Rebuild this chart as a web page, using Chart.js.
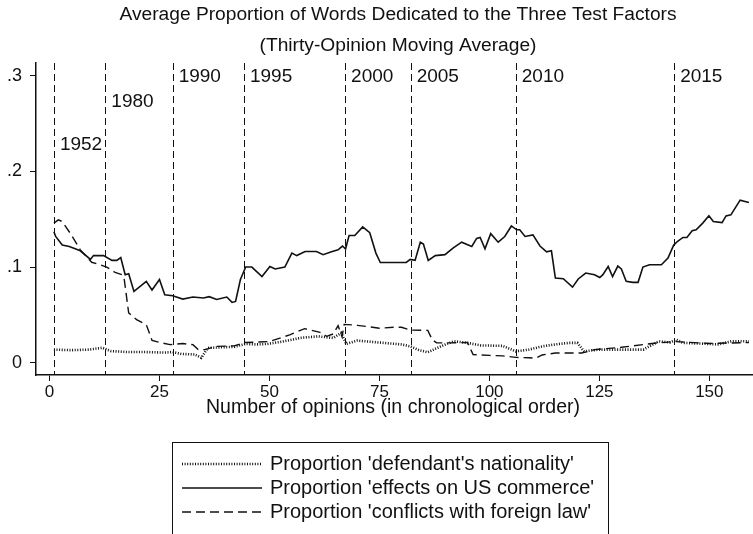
<!DOCTYPE html>
<html>
<head>
<meta charset="utf-8">
<script src="https://cdn.jsdelivr.net/npm/chart.js@4"></script>
<style>
  body { margin: 0; background: #fff; }
  #c { display: block; }
</style>
</head>
<body>
<canvas id="c" width="753" height="534"></canvas>
<script>
// values: [opinion number, proportion]
const nationality = [
  [1, .0136], [5, .013], [9, .0136], [12, .0155], [14, .012], [18, .011], [22, .011], [26, .0105],
  [28, .011], [30, .009], [33, .0085], [34.5, .005], [35.5, .012], [36, .0153], [39, .016], [42, .0165],
  [44.5, .0195], [47, .019], [49.5, .0195], [53, .022], [57, .0258], [61, .0275], [64.5, .0258],
  [66.3, .031], [67.5, .0195], [70, .023], [75, .021], [80, .019], [82, .017], [84, .013], [86, .0108],
  [88, .015], [90, .019], [92, .0223], [95, .0206], [98, .018], [103, .0175], [106, .0118], [109, .0136],
  [112, .017], [115, .019], [118, .0206], [120, .0206], [121.5, .0118], [125, .0136], [130, .0136],
  [135, .0136], [138.5, .0223], [141, .021], [142.5, .024], [144, .0206], [148, .0199], [152, .019],
  [155, .0223], [159, .0223]
];

const commerce = [
  [1, .137], [1.4, .132], [2.9, .123], [4.5, .1215], [7, .117], [9.3, .108], [10, .112], [12.3, .112],
  [14.2, .107], [15.3, .107], [16.2, .110], [17.2, .092], [18, .093], [19.2, .0745], [22, .085],
  [23.3, .076], [25, .087], [26.2, .071], [28, .070], [30.3, .0665], [32.6, .0686], [35, .0676],
  [36.3, .069], [38, .066], [40.3, .0686], [41.5, .063], [42.3, .064], [43.4, .087], [44.6, .100],
  [46, .100], [48.3, .090], [50.1, .1006], [51.3, .098], [53.5, .100], [55.1, .1146], [56.2, .112],
  [58.1, .1163], [60.7, .1163], [62.2, .113], [64.1, .116], [65.6, .118], [66.6, .122], [67.3, .119],
  [68.1, .133], [69.4, .133], [71.2, .142], [72.8, .136], [74.2, .1146], [75.2, .1048], [81.1, .1048],
  [82, .108], [83.1, .107], [84.3, .126], [85, .124], [86.1, .107], [87.7, .112], [89.9, .113],
  [91.8, .120], [93.7, .126], [96, .1215], [97.1, .130], [97.9, .131], [99, .119], [100.3, .135],
  [102, .126], [103.5, .132], [105, .143], [106.2, .139], [106.9, .139], [108.1, .132], [109.9, .1337],
  [111.5, .122], [113, .116], [114.1, .117], [115, .0885], [116.8, .0878], [118.9, .079], [120.2, .0875],
  [121.9, .0937], [123.9, .092], [125.1, .089], [125.8, .092], [127, .1006], [128, .090], [129.2, .101],
  [130, .098], [131.1, .085], [132.6, .084], [133.8, .084], [134.9, .100], [136.4, .1024], [139.1, .1024],
  [140.6, .1094], [141.9, .123], [142.8, .127], [144, .131], [144.9, .131], [146.1, .138], [147, .139],
  [148.5, .146], [149.9, .1536], [150.9, .1476], [152.9, .1466], [153.8, .1536], [154.9, .1546],
  [157, .170], [159, .1675]
];

const foreignLaw = [
  [1, .146], [2, .1494], [2.9, .1476], [4.7, .1355], [7, .118], [9.6, .105], [11.5, .1024], [13, .100],
  [14.9, .0944], [16.5, .092], [17, .0867], [18, .052], [19.8, .045], [22, .0397], [23.3, .0233],
  [25.5, .0206], [27.4, .0188], [30.3, .0199], [32.6, .0188], [33.8, .0136], [35.3, .0136], [38, .017],
  [42, .0175], [44.5, .021], [50, .022], [54.6, .029], [58, .0355], [61.5, .0317], [63, .0275],
  [64.5, .030], [65.6, .0387], [66.5, .027], [67, .040], [70, .039], [75, .036], [78.5, .037], [80, .037],
  [82, .034], [86, .0337], [87, .024], [88, .0206], [91, .0206], [95, .021], [96.3, .0084], [100, .0075],
  [103, .007], [106, .0055], [109, .005], [110.5, .0045], [112, .008], [115, .010], [121, .010],
  [124, .0136], [130, .016], [137, .020], [142, .022], [150, .020], [159, .021]
];

const seriesNames = [
  "Proportion 'defendant's nationality'",
  "Proportion 'effects on US commerce'",
  "Proportion 'conflicts with foreign law'"
];

// vertical reference lines: opinion number where each year starts
const markerOpinions = [1, 12.7, 28, 44.2, 67.2, 82.1, 106, 142];
const markerYears = ['1952', '1980', '1990', '1995', '2000', '2005', '2010', '2015'];
const markerLabelY = [.228, .273, .299, .299, .299, .299, .299, .299];

const xTicks = [0, 25, 50, 75, 100, 125, 150];
const yTicks = [0, .1, .2, .3];

const titleLines = ['Average Proportion of Words Dedicated to the Three Test Factors', '(Thirty-Opinion Moving Average)'];
const xTitle = 'Number of opinions (in chronological order)';

const INK = '#111';
const FONT = "'Liberation Sans', Arial, Helvetica, sans-serif";
Chart.defaults.font.family = FONT;
Chart.defaults.color = INK;

const toPts = arr => arr.map(p => ({ x: p[0], y: p[1] }));

const styles = [
  { borderWidth: 2.6, borderDash: [1, 1.6] },
  { borderWidth: 1.6, borderDash: [] },
  { borderWidth: 1.4, borderDash: [9, 5] }
];

const extras = {
  id: 'extras',
  beforeDatasetsDraw(chart) {
    const { ctx, chartArea: a, scales: { x } } = chart;
    ctx.save();
    ctx.strokeStyle = INK;
    ctx.lineWidth = 1;
    ctx.setLineDash([7, 4]);
    markerOpinions.forEach(v => {
      const px = Math.round(x.getPixelForValue(v)) + 0.5;
      ctx.beginPath();
      ctx.moveTo(px, a.top);
      ctx.lineTo(px, a.bottom);
      ctx.stroke();
    });
    ctx.restore();
  },
  afterDraw(chart) {
    const { ctx, chartArea: a, scales: { x, y } } = chart;
    ctx.save();
    ctx.fillStyle = INK;
    ctx.textBaseline = 'middle';

    // year labels
    ctx.font = '19px ' + FONT;
    ctx.textAlign = 'left';
    markerOpinions.forEach((v, i) => {
      ctx.fillText(markerYears[i], x.getPixelForValue(v) + 6, y.getPixelForValue(markerLabelY[i]));
    });

    // title
    const cx = (a.left + a.right) / 2 + 4;
    ctx.textAlign = 'center';
    ctx.font = '19.2px ' + FONT;
    ctx.fillText(titleLines[0], cx, 15);
    ctx.fillText(titleLines[1], cx, 46);

    // x axis title
    ctx.font = '19.5px ' + FONT;
    ctx.fillText(xTitle, (a.left + a.right) / 2 - 1, 408);

    // legend
    ctx.lineWidth = 1;
    ctx.setLineDash([]);
    ctx.strokeStyle = INK;
    ctx.strokeRect(172.5, 442.5, 436, 110);
    ctx.font = '20px ' + FONT;
    ctx.textAlign = 'left';
    const rows = [464, 488, 512];
    chart.data.datasets.forEach((ds, i) => {
      ctx.save();
      ctx.lineWidth = ds.borderWidth;
      ctx.setLineDash(ds.borderDash);
      ctx.beginPath();
      ctx.moveTo(182, rows[i]);
      ctx.lineTo(262, rows[i]);
      ctx.stroke();
      ctx.restore();
      ctx.fillText(ds.label, 270, rows[i]);
    });
    ctx.restore();
  }
};

new Chart(document.getElementById('c'), {
  type: 'line',
  data: {
    datasets: [nationality, commerce, foreignLaw].map((d, i) => ({
      label: seriesNames[i],
      data: toPts(d),
      borderColor: INK,
      borderWidth: styles[i].borderWidth,
      borderDash: styles[i].borderDash,
      pointRadius: 0,
      tension: 0,
      fill: false
    }))
  },
  options: {
    responsive: false,
    animation: false,
    devicePixelRatio: 1,
    layout: { padding: { top: 63, right: 1, left: 0, bottom: 0 } },
    plugins: { legend: { display: false }, tooltip: { enabled: false } },
    scales: {
      x: {
        type: 'linear',
        min: -3.07,
        max: 159.7,
        afterBuildTicks: s => { s.ticks = xTicks.map(v => ({ value: v })); },
        afterFit: s => { s.height = 534 - 375; },
        grid: { drawOnChartArea: false, color: INK, tickLength: 6 },
        border: { color: INK, width: 1.5 },
        ticks: { font: { size: 17 }, padding: 1, maxRotation: 0, color: INK }
      },
      y: {
        min: -0.013,
        max: 0.3136,
        afterBuildTicks: s => { s.ticks = yTicks.map(v => ({ value: v })); },
        afterFit: s => { s.width = 36; },
        grid: { drawOnChartArea: false, color: INK, tickLength: 6 },
        border: { color: INK, width: 1.5 },
        ticks: {
          font: { size: 18 },
          padding: 8,
          color: INK,
          callback: v => v === 0 ? '0' : String(v).replace(/^0/, '')
        }
      }
    }
  },
  plugins: [extras]
});
</script>
</body>
</html>
